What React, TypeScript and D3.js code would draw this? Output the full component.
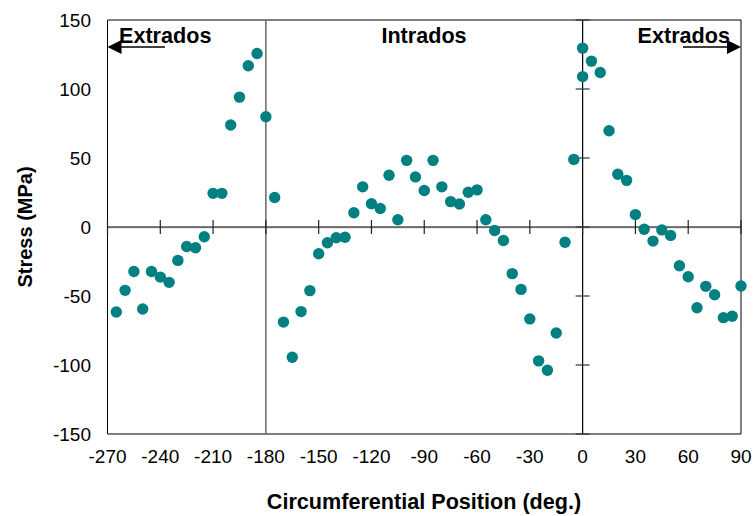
import React from "react";
import * as d3 from "d3";

const positions: number[] = [
  -265, -260, -255, -250, -245, -240, -235, -230, -225, -220, -215, -210, -205, -200, -195, -190, -185, -180,
  -175, -170, -165, -160, -155, -150, -145, -140, -135, -130, -125, -120, -115, -110, -105, -100, -95, -90,
  -85, -80, -75, -70, -65, -60, -55, -50, -45, -40, -35, -30, -25, -20, -15, -10, -5, 0,
  0, 5, 10, 15, 20, 25, 30, 35, 40, 45, 50, 55, 60, 65, 70, 75, 80, 85, 90,
];
const stress: number[] = [
  -61.6, -45.9, -32.2, -59.4, -32.2, -36.3, -40.1, -24.2, -14.1, -15.0, -7.1, 24.4, 24.4, 73.9, 94.1, 116.8, 125.7, 79.9,
  21.4, -68.9, -94.4, -61.3, -46.1, -19.4, -11.4, -7.8, -7.4, 10.3, 29.1, 16.8, 13.4, 37.5, 5.2, 48.3, 36.3, 26.4,
  48.3, 29.1, 18.4, 16.7, 25.2, 26.9, 5.2, -2.5, -9.8, -33.8, -45.2, -66.6, -97.0, -103.8, -76.8, -11.0, 49.0, 109.0,
  129.6, 120.2, 112.0, 69.8, 38.2, 33.8, 9.0, -1.6, -10.2, -2.1, -6.1, -28.1, -36.0, -58.5, -43.0, -49.1, -65.7, -64.7, -42.8,
];
const xTicks: number[] = [-270, -240, -210, -180, -150, -120, -90, -60, -30, 0, 30, 60, 90];
const yTicks: number[] = [150, 100, 50, 0, -50, -100, -150];
const regionLabels: string[] = ["Extrados", "Intrados", "Extrados"];
const xTitle = "Circumferential Position (deg.)";
const yTitle = "Stress (MPa)";

const W = 753;
const H = 516;
const L = 107.5;
const R = 741;
const T = 20;
const B = 434;
const FONT = "'Liberation Sans', Arial, sans-serif";
const TEAL = "#008080";
const BOLD_SIZE = 21.6;

export default function App() {
  const x = d3.scaleLinear().domain([-270, 90]).range([L, R]);
  const y = d3.scaleLinear().domain([-150, 150]).range([B, T]);
  const x0 = x(0);
  const y0 = y(0);
  const xm180 = x(-180);
  const arrowY = 47;

  return (
    <svg
      width={W}
      height={H}
      style={{ position: "absolute", left: 0, top: 0, background: "#fff" }}
      fontFamily={FONT}
    >
      {/* frame */}
      <line x1={L} x2={R} y1={T} y2={T} stroke="#808080" strokeWidth={2} />
      <line x1={L} x2={L} y1={T} y2={B} stroke="#000" strokeWidth={1} />
      <line x1={R} x2={R} y1={T} y2={B} stroke="#000" strokeWidth={1} />
      <line x1={L} x2={R} y1={B} y2={B} stroke="#000" strokeWidth={1} />
      {/* -180 divider */}
      <line x1={xm180} x2={xm180} y1={T} y2={B} stroke="#707070" strokeWidth={1.6} />
      {/* zero lines */}
      <line x1={x0} x2={x0} y1={T} y2={B} stroke="#000" strokeWidth={1.2} />
      <line x1={L} x2={R} y1={y0 + 0.8} y2={y0 + 0.8} stroke="#bbb" strokeWidth={1} />
      <line x1={L} x2={R} y1={y0} y2={y0} stroke="#000" strokeWidth={1.2} />
      {/* x ticks on zero line */}
      {xTicks.map((t) => (
        <line key={"xt" + t} x1={x(t)} x2={x(t)} y1={y0 - 7} y2={y0 + 7} stroke="#222" strokeWidth={1.2} />
      ))}
      {/* y ticks on x=0 line */}
      {yTicks.map((t) => (
        <line key={"yt" + t} x1={x0 - 7} x2={x0 + 7} y1={y(t)} y2={y(t)} stroke="#333" strokeWidth={1.2} />
      ))}
      {/* tick labels */}
      {xTicks.map((t) => (
        <text key={"xl" + t} x={x(t)} y={463} textAnchor="middle" fontSize={19} fill="#000">
          {t}
        </text>
      ))}
      {yTicks.map((t) => (
        <text key={"yl" + t} x={91} y={y(t)} dy="0.36em" textAnchor="end" fontSize={19} fill="#000">
          {t}
        </text>
      ))}
      {/* axis titles */}
      <text x={424} y={509} textAnchor="middle" fontSize={BOLD_SIZE} fontWeight="bold" fill="#000">
        {xTitle}
      </text>
      <text
        transform={`translate(32,${(T + B) / 2}) rotate(-90)`}
        textAnchor="middle"
        fontSize={20}
        fontWeight="bold"
        fill="#000"
      >
        {yTitle}
      </text>
      {/* region labels and arrows */}
      <text x={119} y={43} fontSize={BOLD_SIZE} fontWeight="bold" fill="#000">
        {regionLabels[0]}
      </text>
      <text x={424} y={43} textAnchor="middle" fontSize={BOLD_SIZE} fontWeight="bold" fill="#000">
        {regionLabels[1]}
      </text>
      <text x={730} y={43} textAnchor="end" fontSize={BOLD_SIZE} fontWeight="bold" fill="#000">
        {regionLabels[2]}
      </text>
      <line x1={118} x2={165} y1={arrowY} y2={arrowY} stroke="#000" strokeWidth={1.3} />
      <path d={`M${L},${arrowY} L${L + 14},${arrowY - 7} L${L + 14},${arrowY + 7} Z`} fill="#000" />
      <line x1={683} x2={730} y1={arrowY} y2={arrowY} stroke="#000" strokeWidth={1.3} />
      <path d={`M${R},${arrowY} L${R - 14},${arrowY - 7} L${R - 14},${arrowY + 7} Z`} fill="#000" />
      {/* data */}
      {positions.map((p, i) => (
        <circle key={"pt" + i} cx={x(p)} cy={y(stress[i])} r={5.7} fill={TEAL} />
      ))}
    </svg>
  );
}
